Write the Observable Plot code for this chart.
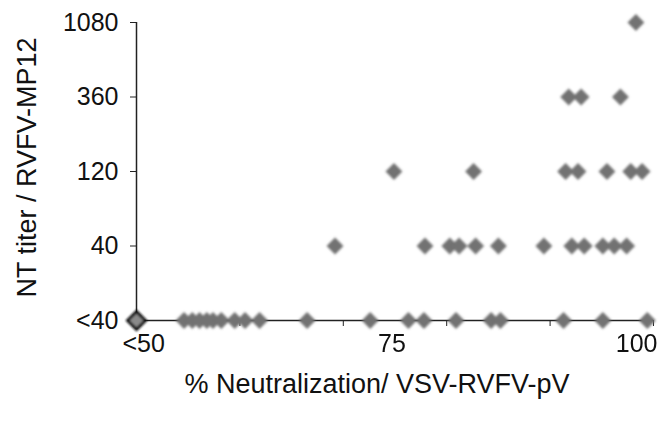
<!DOCTYPE html>
<html><head><meta charset="utf-8">
<script src="https://cdn.jsdelivr.net/npm/d3@7"></script>
<script src="https://cdn.jsdelivr.net/npm/@observablehq/plot@0.6"></script>
<style>
body{margin:0;background:#fff}
svg{font-family:"Liberation Sans",Arial,sans-serif}
</style>
</head><body><div id="chart"></div>
<script>
// "<40" titer category is placed one 3-fold dilution below 40
const belowDetect = 40 / 3;
const yTickValues = [belowDetect, 40, 120, 360, 1080];
const yTickLabels = ["<40", "40", "120", "360", "1080"];
const xLabelValues = [50, 75, 100];
const xLabels = ["<50", "75", "100"];
const xMinorTicks = [60, 70, 80, 90, 100];
const yTitle = "NT titer / RVFV-MP12";
const xTitle = "% Neutralization/ VSV-RVFV-pV";

// % neutralization values per NT titer row
const neutLt40 = [54.6, 55.4, 56.1, 56.8, 57.4, 58.2, 59.5, 60.5, 61.9, 66.5, 72.6, 76.3, 77.8, 80.9, 84.3, 85.2, 91.3, 95.1, 99.4];
const neut40 = [69.2, 77.9, 80.3, 81.2, 82.8, 85.0, 89.4, 92.1, 93.3, 95.1, 96.2, 97.4];
const neut120 = [74.9, 82.6, 91.5, 92.7, 95.5, 97.8, 98.9];
const neut360 = [91.8, 93.0, 96.8];
const neut1080 = [98.3];
// negative sample(s) at <50 / <40
const negX = [50];
const negY = [belowDetect];

const rows = [[belowDetect, neutLt40], [40, neut40], [120, neut120], [360, neut360], [1080, neut1080]];
const data = rows.flatMap(([t, xs]) => xs.map(x => ({x, titer: t})));
const negData = negX.map((x, i) => ({x, titer: negY[i]}));

const fs = 25;
const fsTitle = 27;
const chart = Plot.plot({
  width: 672, height: 424,
  marginLeft: 136, marginRight: 19, marginTop: 22, marginBottom: 104,
  style: {background: "#fff", color: "#111", fontFamily: '"Liberation Sans", Arial, sans-serif'},
  x: {domain: [50, 100]},
  y: {type: "log", domain: [belowDetect, 1080]},
  marks: [
    Plot.axisY({ticks: yTickValues, tickFormat: d => yTickLabels[yTickValues.indexOf(d)], tickSize: 6, tickPadding: 12, fontSize: fs, label: null, stroke: "#222"}),
    Plot.axisX({ticks: xMinorTicks, tickFormat: () => "", tickSize: 6, label: null, stroke: "#222"}),
    Plot.ruleX([50], {stroke: "#222", strokeWidth: 1.5}),
    Plot.ruleY([belowDetect], {stroke: "#222", strokeWidth: 1.5}),
    Plot.dot(data, {x: "x", y: "titer", symbol: "diamond2", r: 7.6, fill: "#727272"}),
    Plot.dot(negData, {x: "x", y: "titer", symbol: "diamond2", r: 8, fill: "#8a8a8a", stroke: "#111", strokeWidth: 3}),
    Plot.text([0], {x: () => xLabelValues[0], text: () => xLabels[0], frameAnchor: "bottom", lineAnchor: "middle", textAnchor: "start", dx: -14, dy: 23, fontSize: fs, fill: "#111"}),
    Plot.text([1], {x: () => xLabelValues[1], text: () => xLabels[1], frameAnchor: "bottom", lineAnchor: "middle", dx: -3, dy: 23, fontSize: fs, fill: "#111"}),
    Plot.text([2], {x: () => xLabelValues[2], text: () => xLabels[2], frameAnchor: "bottom", lineAnchor: "middle", textAnchor: "end", dx: 4, dy: 23, fontSize: fs, fill: "#111"}),
    Plot.text([xTitle], {text: d => d, frameAnchor: "bottom", lineAnchor: "middle", dx: -18, dy: 64, fontSize: fsTitle, fill: "#111"}),
    Plot.text([yTitle], {text: d => d, frameAnchor: "left", textAnchor: "middle", lineAnchor: "middle", rotate: -90, dx: -109, dy: -4, fontSize: fsTitle, fill: "#111"})
  ]
});

// soft, scanned-looking markers
const ns = "http://www.w3.org/2000/svg";
const defs = document.createElementNS(ns, "defs");
defs.innerHTML = '<filter id="soft" x="-20%" y="-20%" width="140%" height="140%"><feGaussianBlur stdDeviation="1"/></filter>';
chart.insertBefore(defs, chart.firstChild);
chart.querySelectorAll('g[aria-label="dot"]').forEach(g => g.setAttribute("filter", "url(#soft)"));

document.getElementById("chart").appendChild(chart);
</script>
</body></html>
